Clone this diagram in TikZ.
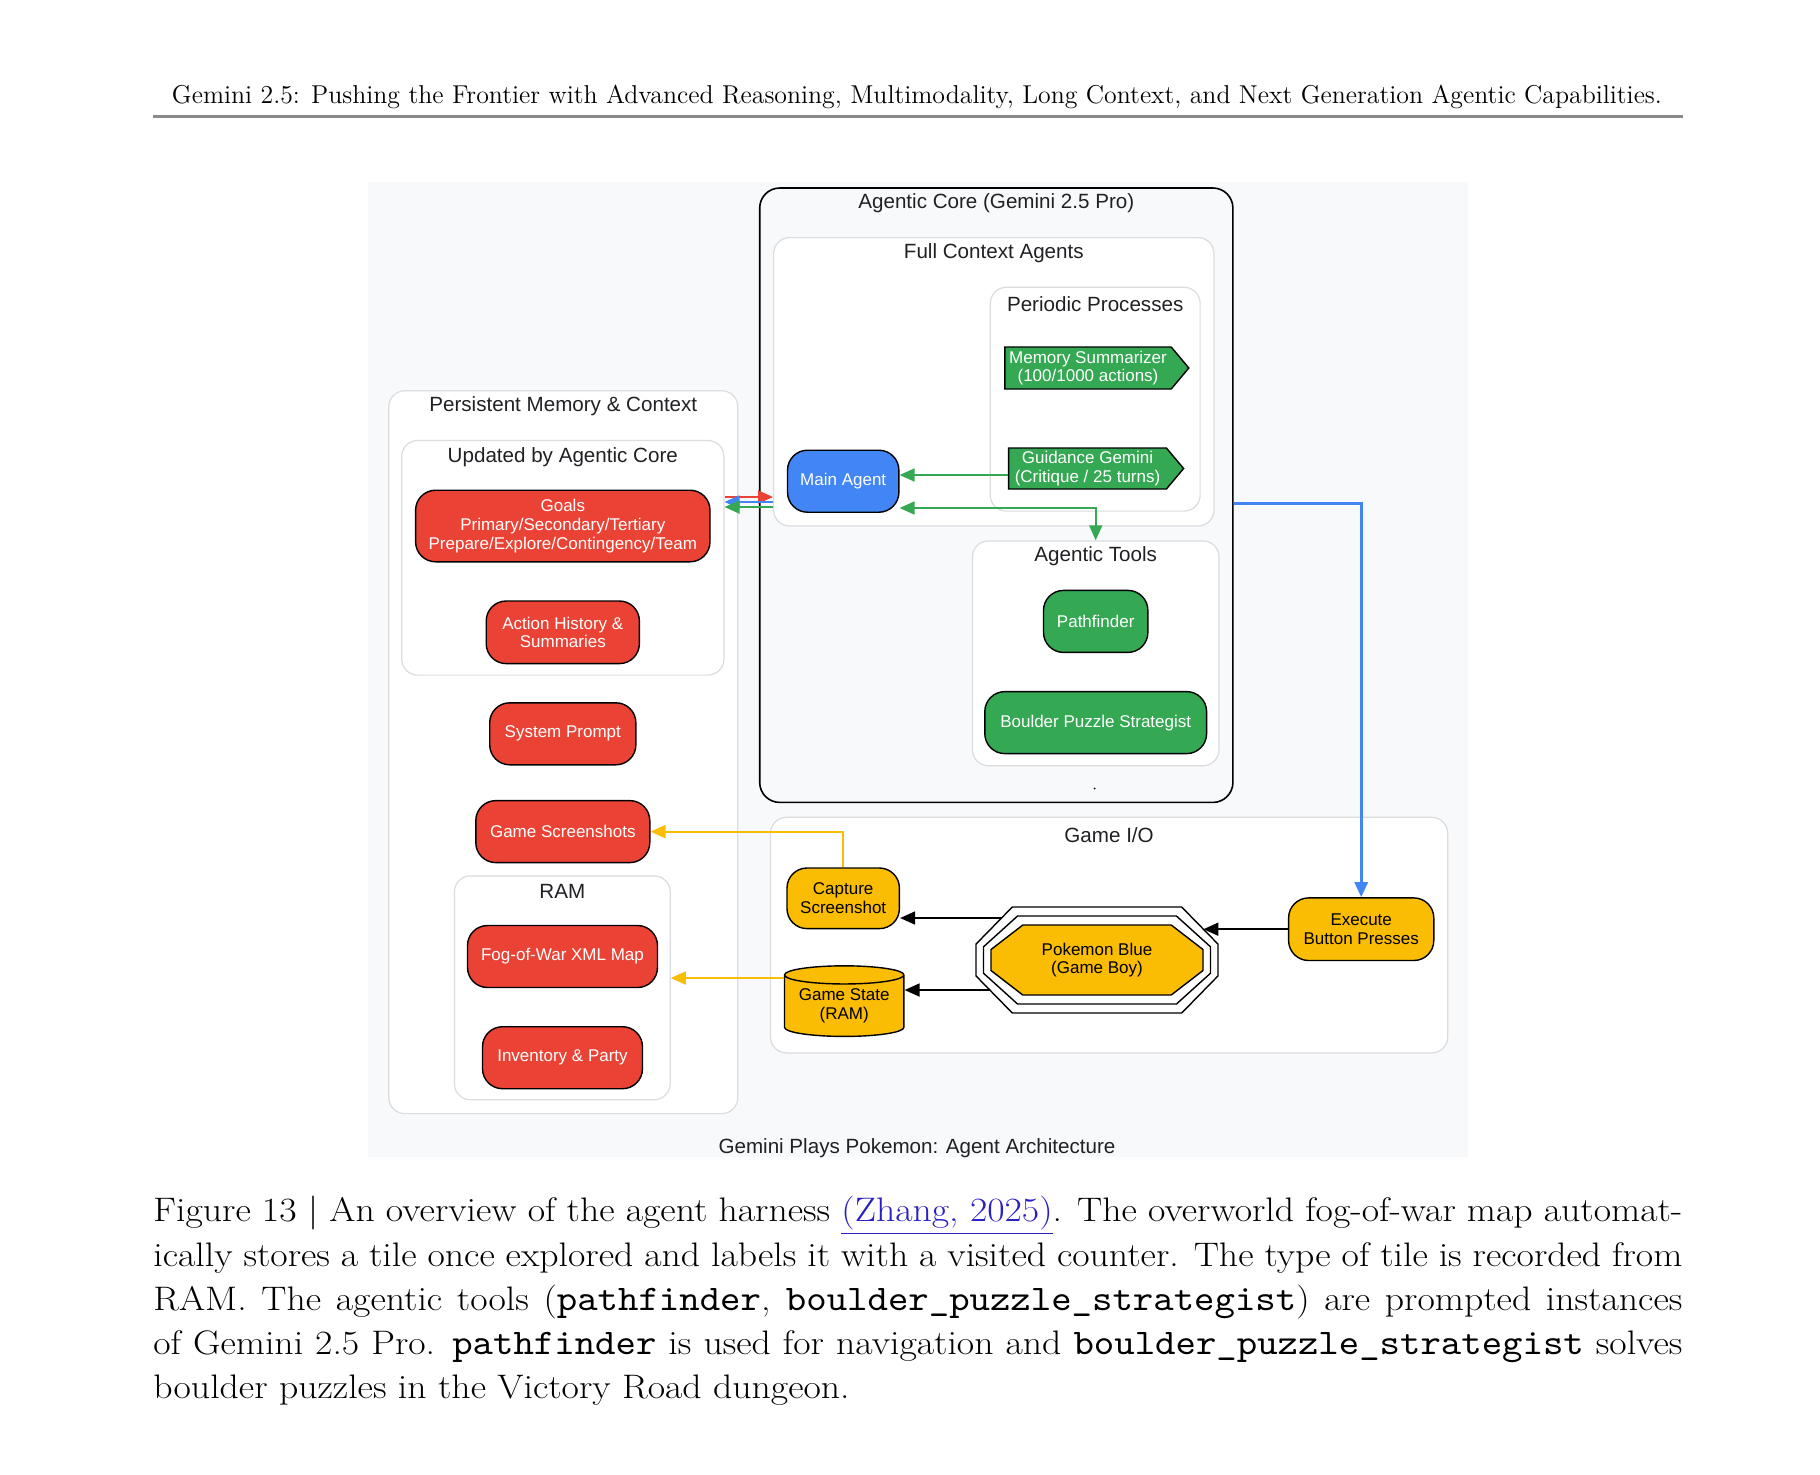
\documentclass[tikz,border=0pt]{standalone}
\usepackage{fontspec}
\usepackage{graphicx}
\usetikzlibrary{positioning,arrows.meta,shapes.geometric,shapes.symbols}
\newfontfamily\diagfont{Liberation Sans}
\newfontfamily\capserif{lmroman17-regular.otf}[FakeStretch=1.11]
\newfontfamily\capmono{lmmono10-regular.otf}[FakeStretch=1.08]
\newcommand{\cmono}[1]{{\capmono\fontsize{18}{22.05}\selectfont #1}}

\definecolor{gred}{HTML}{EA4335}
\definecolor{gblue}{HTML}{4285F4}
\definecolor{ggreen}{HTML}{34A853}
\definecolor{gyellow}{HTML}{FBBC04}
\definecolor{bggray}{HTML}{F8F9FA}
\definecolor{cgray}{HTML}{DADCE0}
\definecolor{ttlgray}{HTML}{202124}
\definecolor{rulegray}{HTML}{8A8A8A}
\definecolor{linkblue}{HTML}{2A1FC4}

\tikzset{
  clus/.style={draw=cgray, fill=white, rounded corners=8pt, line width=0.6pt, inner sep=0pt},
  ttl/.style={font=\diagfont\fontsize{10.3}{12}\selectfont, text=ttlgray, inner sep=0pt},
  box/.style={draw=black, line width=0.7pt, rounded corners=10pt, align=center,
    font=\diagfont\fontsize{8.5}{9.3}\selectfont, minimum height=31pt, inner sep=1pt},
  rbox/.style={box, fill=gred, text=white},
  gbox/.style={box, fill=ggreen, text=white},
  ybox/.style={box, fill=gyellow, text=black},
  sig/.style={signal, signal to=east, signal pointer angle=100, draw=black, line width=0.7pt,
    fill=ggreen, text=white, align=center, font=\diagfont\fontsize{8.5}{9.3}\selectfont,
    inner sep=0pt},
  arr/.style={line width=0.9pt, -{Triangle[length=7.5pt,width=6.5pt]}},
  arr2/.style={line width=0.9pt, {Triangle[length=7.5pt,width=6.5pt]}-{Triangle[length=7.5pt,width=6.5pt]}},
}

\newcommand{\octpath}[2]{(-0.7*#1,-#2) -- (0.7*#1,-#2) -- (#1,-0.3*#2) -- (#1,0.3*#2)
  -- (0.7*#1,#2) -- (-0.7*#1,#2) -- (-#1,0.3*#2) -- (-#1,-0.3*#2) -- cycle}

\begin{document}
\begin{tikzpicture}[x=0.5pt, y=-0.5pt, node distance=18.9pt]
  \useasboundingbox[fill=white] (0,0) rectangle (1820,1474);

  % page header
  \node (hdr) at (917,96.5) {\resizebox{745pt}{!}{\fontsize{12}{14}\selectfont Gemini 2.5: Pushing the Frontier with Advanced Reasoning, Multimodality, Long Context, and Next Generation Agentic Capabilities.}};
  \draw[rulegray, line width=1.65pt] (153,116.5) -- (1682.5,116.5);

  % diagram background
  \fill[bggray] (368,182) rectangle (1467.6,1157.4);

  % clusters
  \node[clus, minimum width=174.5pt, minimum height=361.4pt] (persist) at (563.3,752.2) {};
  \node[ttl] (persist-t) at ([yshift=-8pt]persist.north) {Persistent Memory \& Context};
  \node[clus, minimum width=161.1pt, minimum height=117.3pt] (updated) at (562.8,557.8) {};
  \node[ttl] (updated-t) at ([yshift=-8.5pt]updated.north) {Updated by Agentic Core};
  \node[clus, minimum width=107.9pt, minimum height=111.9pt] (ram) at (562.3,987.8) {};
  \node[ttl] (ram-t) at ([yshift=-8pt]ram.north) {RAM};

  \node[clus, draw=black, fill=bggray, rounded corners=10pt, line width=0.8pt,
        minimum width=236.6pt, minimum height=307.2pt] (core) at (996.3,495.2) {};
  \node[ttl] (core-t) at ([yshift=-8pt]core.north) {Agentic Core (Gemini 2.5 Pro)};
  \node[clus, minimum width=220.2pt, minimum height=144.2pt] (fullctx) at (993.8,381.8) {};
  \node[ttl] (fullctx-t) at ([yshift=-8pt]fullctx.north) {Full Context Agents};
  \node[clus, minimum width=104.9pt, minimum height=111.9pt] (periodic) at (1095.2,399.2) {};
  \node[ttl] (periodic-t) at ([yshift=-8.5pt]periodic.north) {Periodic Processes};
  \node[clus, minimum width=123.3pt, minimum height=112.4pt] (tools) at (1095.7,653.3) {};
  \node[ttl] (tools-t) at ([yshift=-8pt]tools.north) {Agentic Tools};
  \fill (1094.7,788.5) circle (0.5pt);

  \node[clus, minimum width=338.6pt, minimum height=117.8pt] (gameio) at (1109.1,935.1) {};
  \node[ttl] (gameio-t) at ([yshift=-9pt]gameio.north) {Game I/O};

  % memory nodes
  \node[rbox, minimum width=147.2pt, minimum height=35.8pt] (goals) at (562.8,526)
    {Goals\\Primary/Secondary/Tertiary\\Prepare/Explore/Contingency/Team};
  \node[rbox, minimum width=76.6pt, minimum height=31.3pt, below=of goals] (hist) {Action History \&\\Summaries};
  \node[rbox, minimum width=73.1pt, below=of hist] (sysp) {System Prompt};
  \node[rbox, minimum width=87pt, below=17.2pt of sysp] (shots) {Game Screenshots};
  \node[rbox, minimum width=95pt] (fog) at (562.5,956.5) {Fog-of-War XML Map};
  \node[rbox, minimum width=80pt, below=of fog] (inv) {Inventory \& Party};

  % agentic core nodes
  \node[box, fill=gblue, text=white, minimum width=55.7pt] (main) at (843.2,481.2) {Main Agent};
  \node[sig, minimum width=92pt, minimum height=21pt] (memsum) at (1088,368) {Memory Summarizer\\(100/1000 actions)};
  \node[sig, minimum width=87.5pt, minimum height=20.5pt] (guide) at (1087.5,468.5) {Guidance Gemini\\(Critique / 25 turns)};
  \node[gbox, minimum width=52.2pt] (path) at (1095.7,621.4) {Pathfinder};
  \node[gbox, minimum width=110.9pt, below=of path] (boulder) {Boulder Puzzle Strategist};

  % game i/o nodes
  \node[ybox, minimum width=56.2pt, minimum height=30.3pt] (capture) at (843.2,898.3) {Capture\\Screenshot};
  \node[cylinder, shape border rotate=90, aspect=0.2, draw=black, line width=0.7pt, fill=gyellow,
        align=center, font=\diagfont\fontsize{8.5}{9.3}\selectfont, inner sep=0pt,
        minimum width=59.7pt, minimum height=35.3pt] (state) at (844.2,1006) {Game State\\(RAM)};
  \node[ybox, minimum width=72.6pt, minimum height=31.3pt] (exec) at (1361.2,929.2) {Execute\\Button Presses};

  \coordinate (pkc) at (1097,960);
  \begin{scope}[shift={(pkc)}, line width=0.7pt]
    \draw[fill=gyellow] \octpath{106}{35};
    \foreach \a/\b in {113.5/44,121/53}
      \draw \octpath{\a}{\b};
  \end{scope}
  \node[align=center, font=\diagfont\fontsize{8.5}{9.3}\selectfont, inner sep=0pt] (pokemon) at (pkc) {Pokemon Blue\\(Game Boy)};
  \coordinate (pkcap) at (1001.6,918);
  \coordinate (pkram) at (989.8,990);
  \coordinate (pkexe) at (1203.4,929.2);

  % connectors
  \draw[arr, gred] ([yshift=30.4pt]updated.east) -- ([yshift=30.4pt]updated.east -| fullctx.west);
  \draw[arr, gblue] ([yshift=27.9pt]updated.east -| fullctx.west) -- ([yshift=27.9pt]updated.east);
  \draw[arr, ggreen] ([yshift=25.4pt]updated.east -| fullctx.west) -- ([yshift=25.4pt]updated.east);
  \draw[arr, ggreen] ([yshift=-3.25pt]guide.west) -- ([yshift=-3.25pt]guide.west -| main.east);
  \draw[arr2, ggreen] ([yshift=-13.4pt]main.east) -| (tools.north);
  \draw[arr, gblue, line width=1.3pt] ([yshift=-4.1pt]core.east) -| (exec.north);
  \draw[arr, gyellow] (capture.north) |- (shots.east);
  \draw[arr, gyellow] ([yshift=14pt]state.west) -- ([yshift=14pt]state.west -| ram.east);
  \draw[arr] (pkcap) -- (pkcap -| capture.east);
  \draw[arr] (pkram) -- (pkram -| state.east);
  \draw[arr] (pkexe -| exec.west) -- (pkexe);

  \node[ttl] (diag-t) at (917,1148) {Gemini Plays Pokemon: Agent Architecture};

  % figure caption
  \node[anchor=north west, text width=764.5pt, align=justify, inner sep=0pt,
        font=\capserif\fontsize{17}{22.05}\selectfont] (capt) at (153,1196)
    {Figure 13 \textbar{} An overview of the agent harness {\color{linkblue}\underline{(Zhang, 2025)}}. The overworld fog-of-war map automat-\linebreak
     ically stores a tile once explored and labels it with a visited counter. The type of tile is recorded from\linebreak
     RAM. The agentic tools (\cmono{pathfinder}, \cmono{boulder\_puzzle\_strategist}) are prompted instances\linebreak
     of Gemini 2.5 Pro. \cmono{pathfinder} is used for navigation and \cmono{boulder\_puzzle\_strategist} solves\linebreak
     boulder puzzles in the Victory Road dungeon.};
\end{tikzpicture}
\end{document}
